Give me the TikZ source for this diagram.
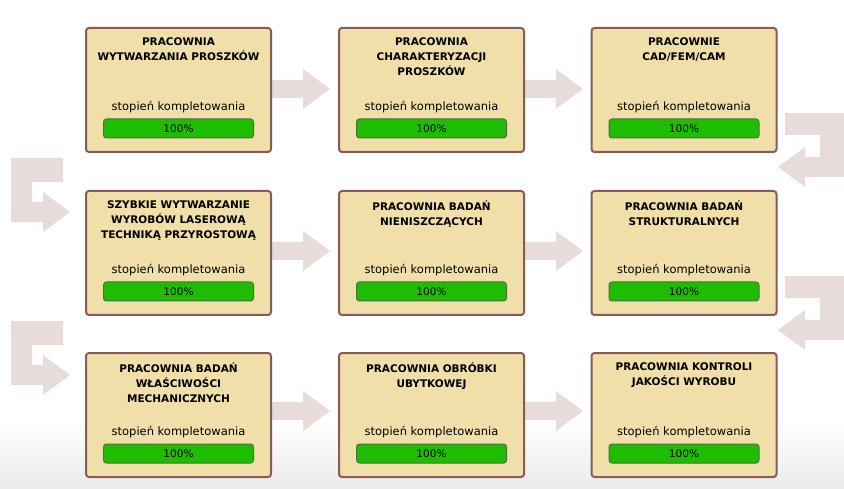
\documentclass[tikz,border=0pt]{standalone}
\usepackage{fontspec}
\setmainfont{DejaVu Sans}
\begin{document}
\begin{tikzpicture}[x=1pt,y=-1pt,
  box/.style={draw=boxbd,fill=boxfill,line width=2pt,rounded corners=3pt,minimum width=185pt,minimum height=124pt,inner sep=0pt},
  bar/.style={draw=barbd,fill=barfill,line width=1pt,rounded corners=3pt,minimum width=150pt,minimum height=19pt,inner sep=0pt,font=\fontsize{10.5}{12}\selectfont},
  ttl/.style={font=\bfseries\fontsize{10.5}{15}\selectfont,align=center,anchor=north,inner sep=0pt},
  lbl/.style={font=\fontsize{11.5}{13}\selectfont},
  arr/.style={fill=arrcol,draw=none}]
\definecolor{boxfill}{HTML}{F0DFA8}
\definecolor{boxbd}{HTML}{8A5A58}
\definecolor{barfill}{HTML}{1FBD00}
\definecolor{barbd}{HTML}{4D6E45}
\definecolor{arrcol}{HTML}{E8DCDA}
\fill[white] (0,0) rectangle (844,489);
\shade[top color=white,bottom color=black!8] (0,420) rectangle (844,489);
\useasboundingbox (0,0) rectangle (844,489);
% right arrows
\foreach \ax in {272,525}{\foreach \dy in {0,162,322}{
  \fill[arr] (\ax,80+\dy) -- (\ax+31,80+\dy) -- (\ax+31,69+\dy) -- (\ax+58,89+\dy) -- (\ax+31,109+\dy) -- (\ax+31,98+\dy) -- (\ax,98+\dy) -- cycle;}}
% L arrows
\foreach \dy in {0,163}{
  \fill[arr] (11,158+\dy) -- (63,158+\dy) -- (63,182+\dy) -- (32,182+\dy) -- (32,202+\dy) -- (43,202+\dy) -- (43,192+\dy) -- (70,212+\dy) -- (43,232+\dy) -- (43,222+\dy) -- (11,222+\dy) -- cycle;
  \fill[arr] (844,113+\dy) -- (785,113+\dy) -- (785,135+\dy) -- (820,135+\dy) -- (820,157+\dy) -- (805,157+\dy) -- (805,147+\dy) -- (778,167+\dy) -- (805,187+\dy) -- (805,177+\dy) -- (844,177+\dy) -- cycle;}
% boxes
\foreach \n/\cx/\ty/\t in {
  a/178.5/27/{PRACOWNIA\\WYTWARZANIA PROSZKÓW},
  b/431.5/27/{PRACOWNIA\\CHARAKTERYZACJI\\PROSZKÓW},
  c/684/27/{PRACOWNIE\\CAD/FEM/CAM},
  d/178.5/190/{SZYBKIE WYTWARZANIE\\WYROBÓW LASEROWĄ\\TECHNIKĄ PRZYROSTOWĄ},
  e/431.5/190/{PRACOWNIA BADAŃ\\NIENISZCZĄCYCH},
  f/684/190/{PRACOWNIA BADAŃ\\STRUKTURALNYCH},
  g/178.5/352/{PRACOWNIA BADAŃ\\WŁAŚCIWOŚCI\\MECHANICZNYCH},
  h/431.5/352/{PRACOWNIA OBRÓBKI\\UBYTKOWEJ},
  i/684/352/{PRACOWNIA KONTROLI\\JAKOŚCI WYROBU}}{
  \node[box,anchor=north] (\n) at (\cx,\ty) {};
  \node[ttl] (\n t) at (\cx,\ty+11) {\t};
  \node[lbl] (\n l) at (\cx,\ty+80) {stopień kompletowania};
  \node[bar] (\n b) at (\cx,\ty+101.5) {100\%};
}
\end{tikzpicture}
\end{document}
